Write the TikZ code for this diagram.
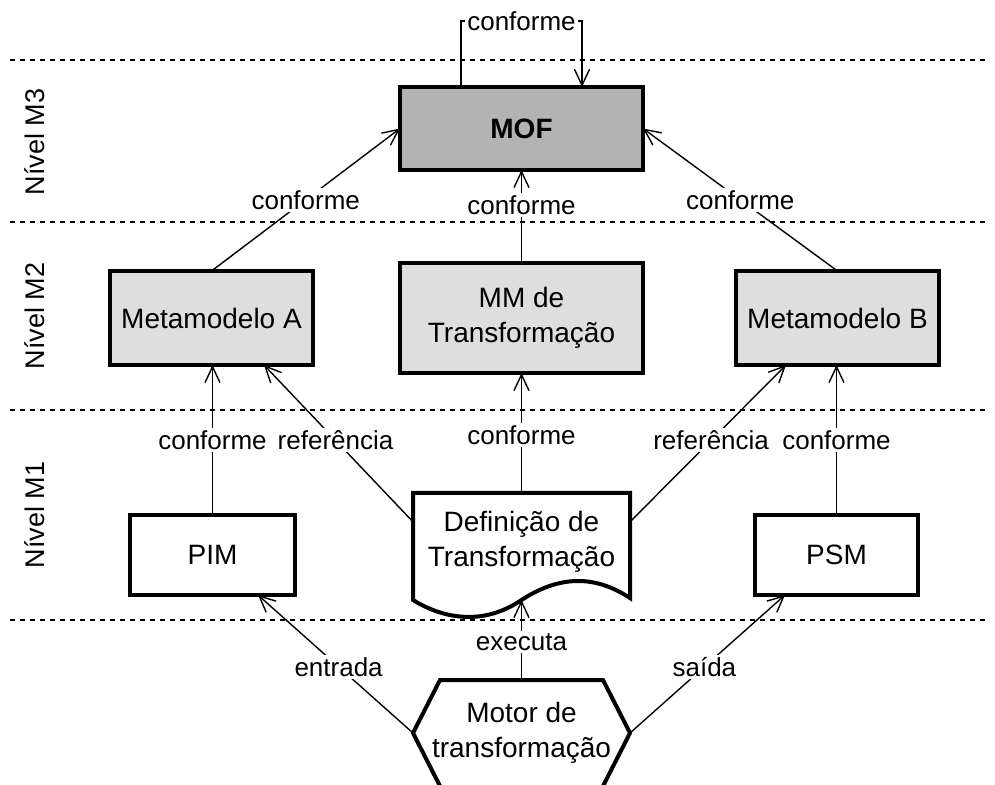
\documentclass[tikz,border=0pt]{standalone}
\usepackage{fontspec}
\setmainfont{Liberation Sans}
\usetikzlibrary{arrows.meta,calc}

\definecolor{mofgray}{HTML}{B3B3B3}
\definecolor{mmgray}{HTML}{DEDEDE}

\begin{document}
\begin{tikzpicture}[x=0.5pt,y=-0.5pt,
  every node/.style={inner sep=0pt, outer sep=0pt},
  modelbox/.style={draw, line width=2pt, align=center,
    font=\fontsize{14}{17.5}\selectfont},
  ghostbox/.style={align=center, font=\fontsize{14}{17.5}\selectfont},
  outline/.style={draw, line width=2pt, line join=miter},
  conn/.style={line width=0.7pt},
  arr/.style={conn, -{Straight Barb[length=8pt,width=7.5pt,line width=0.7pt]}},
  lbl/.style={fill=white, inner sep=1.2pt, font=\fontsize{13}{15}\selectfont},
  levelline/.style={line width=0.6pt, dash pattern=on 2.6pt off 2.4pt},
  levellabel/.style={rotate=90, font=\fontsize{13.5}{16}\selectfont}]

\clip (0,0) rectangle (995,785);

% level separators
\draw[levelline] (10,60)  -- (985,60);
\draw[levelline] (10,222) -- (985,222);
\draw[levelline] (10,410) -- (985,410);
\draw[levelline] (10,620) -- (985,620);

\node[levellabel] (lvM3) at (35,142) {Nível M3};
\node[levellabel] (lvM2) at (35,316) {Nível M2};
\node[levellabel] (lvM1) at (35,515) {Nível M1};

% M3
\node[modelbox, fill=mofgray, minimum width=121.5pt, minimum height=41.5pt,
      font=\fontsize{14}{17.5}\selectfont\bfseries] (mof) at (521.5,128.5) {MOF};

% M2
\node[modelbox, fill=mmgray, minimum width=101.5pt, minimum height=47pt]
  (metaA) at (211.5,318) {Metamodelo A};
\node[modelbox, fill=mmgray, minimum width=121.5pt, minimum height=55pt]
  (mm) at (521.5,318) {MM de\\Transformação};
\node[modelbox, fill=mmgray, minimum width=101.5pt, minimum height=47pt]
  (metaB) at (837.5,318) {Metamodelo B};

% M1
\node[modelbox, minimum width=82.5pt, minimum height=40pt]
  (pim) at (212.5,555) {PIM};
\node[modelbox, minimum width=81.5pt, minimum height=40pt]
  (psm) at (836.5,555) {PSM};

% document shape for the transformation definition
\node[minimum width=108.5pt, minimum height=53.5pt] (def) at (521.5,546.5) {};
\draw[outline, fill=white]
  (def.south west) -- (def.north west) -- (def.north east)
  -- ($(def.south east)+(0,-2)$)
  .. controls ($(def.south)+(73.5,-25)$) and ($(def.south)+(38.5,-25)$) .. (def.south)
  .. controls ($(def.south)+(-36.5,25)$) and ($(def.south)+(-76.5,20)$) .. (def.south west)
  -- cycle;
\node[ghostbox] (deftext) at ($(def.center)+(0,-5)$) {Definição de\\Transformação};

% hexagon for the transformation engine (its lower edge runs off the page)
\node[minimum width=108.5pt, minimum height=53pt] (motor) at (521.5,733) {};
\draw[outline, fill=white]
  (motor.west) -- ($(motor.north west)+(27,0)$) -- ($(motor.north east)+(-27,0)$)
  -- (motor.east) -- ($(motor.south east)+(-30,6)$) -- ($(motor.south west)+(30,6)$)
  -- cycle;
\node[ghostbox] (motortext) at (motor.center) {Motor de\\transformação};

% MOF conforms to itself
\draw[arr] ($(mof.north west)+(61,0)$) -- ($(mof.north west)+(61,-66)$)
  -- node[lbl] {conforme} ($(mof.north west)+(182,-66)$)
  -- ($(mof.north west)+(182,0)$);

% M2 -> M3
\draw[arr] (metaA.north) -- node[lbl, pos=0.5] {conforme} (mof.west);
\draw[arr] (mm.north) -- node[lbl, pos=0.62] {conforme} (mof.south);
\draw[arr] (metaB.north) -- node[lbl, pos=0.5] {conforme} (mof.east);

% M1 -> M2
\draw[arr] (pim.north) -- node[lbl, pos=0.5] {conforme} (pim.north |- metaA.south);
\draw[arr] ($(def.north west)!0.27!(def.south west)$)
  -- node[lbl, pos=0.52] {referência} ($(metaA.south east)+(-49,0)$);
\draw[arr] (def.north) -- node[lbl, pos=0.48] {conforme} (mm.south);
\draw[arr] ($(def.north east)!0.27!(def.south east)$)
  -- node[lbl, pos=0.52] {referência} ($(metaB.south west)+(50,0)$);
\draw[arr] (psm.north) -- node[lbl, pos=0.5] {conforme} (psm.north |- metaB.south);

% engine -> M1
\draw[arr] (motor.west) -- node[lbl, pos=0.48] {entrada} ($(pim.south)+(45.5,0)$);
\draw[arr] (motor.north) -- node[lbl, pos=0.47] {executa} (def.south);
\draw[arr] (motor.east) -- node[lbl, pos=0.48] {saída} ($(psm.south west)+(30,0)$);

\end{tikzpicture}
\end{document}
